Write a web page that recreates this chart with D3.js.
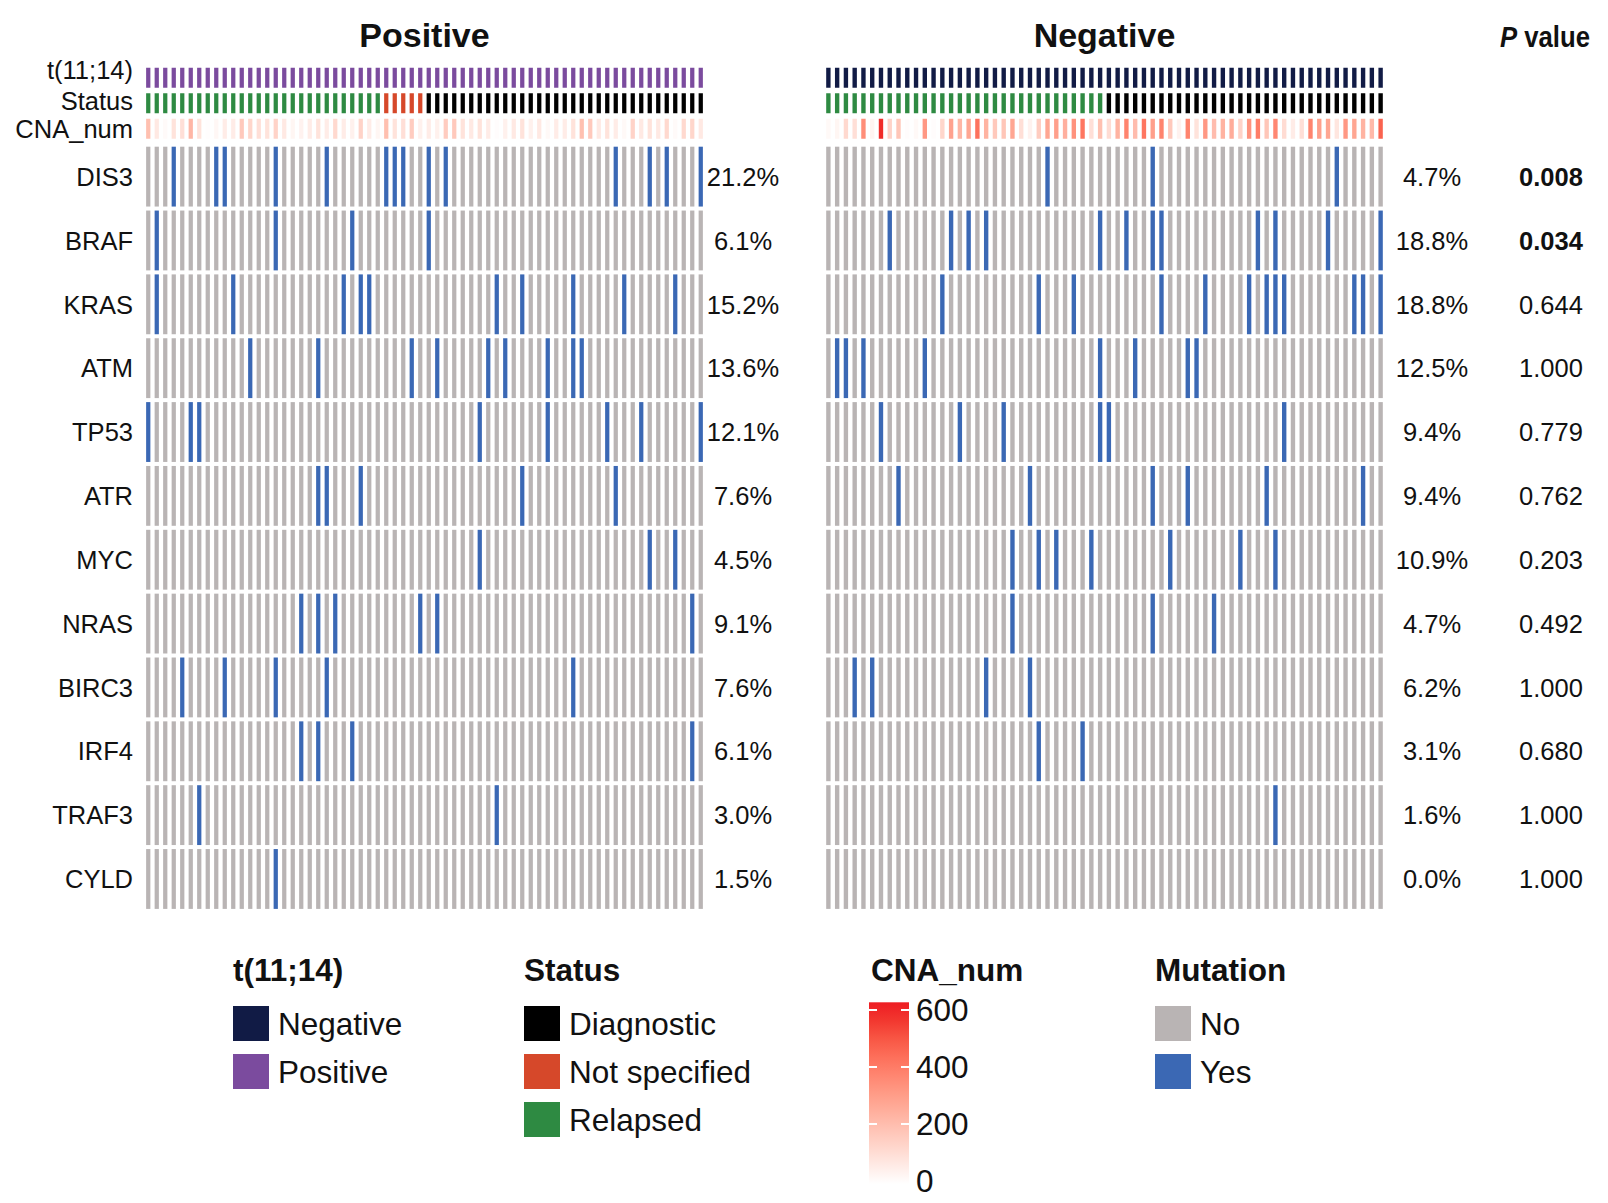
<!DOCTYPE html>
<html>
<head>
<meta charset="utf-8">
<script src="https://cdn.jsdelivr.net/npm/d3@7"></script>
<style>
  body { margin: 0; background: #fff; }
  svg { display: block; }
  text { font-family: "Liberation Sans", Arial, Helvetica, sans-serif; fill: #111; }
</style>
</head>
<body>
<svg id="chart" width="1608" height="1203"></svg>
<script>
// ---- data ----------------------------------------------------------------
const genes = ["DIS3", "BRAF", "KRAS", "ATM", "TP53", "ATR", "MYC", "NRAS", "BIRC3", "IRF4", "TRAF3", "CYLD"];
const annotationRows = ["t(11;14)", "Status", "CNA_num"];

const posSampleCount = 66;
const negSampleCount = 64;

// column indices (sample order) of mutated samples, one list per gene
const posMutated = [
  [3, 8, 9, 15, 21, 28, 29, 30, 33, 35, 55, 59, 61, 65],
  [1, 15, 24, 33],
  [1, 10, 23, 25, 26, 41, 44, 50, 56, 62],
  [12, 20, 31, 34, 40, 42, 47, 50, 51],
  [0, 5, 6, 39, 47, 54, 58, 65],
  [20, 21, 25, 44, 55],
  [39, 59, 62],
  [18, 20, 22, 32, 34, 64],
  [4, 9, 15, 21, 50],
  [18, 20, 24, 64],
  [6, 41],
  [15]
];
const negMutated = [
  [25, 37, 58],
  [7, 14, 16, 18, 31, 34, 37, 38, 49, 51, 57, 63],
  [13, 24, 28, 38, 43, 48, 50, 51, 52, 60, 61, 63],
  [1, 2, 4, 11, 31, 35, 41, 42],
  [6, 15, 20, 31, 32, 52],
  [8, 23, 37, 41, 50, 61],
  [21, 24, 26, 30, 39, 47, 51],
  [21, 37, 44],
  [3, 5, 18, 23],
  [24, 29],
  [51],
  []
];

const posPct = ["21.2%", "6.1%", "15.2%", "13.6%", "12.1%", "7.6%", "4.5%", "9.1%", "7.6%", "6.1%", "3.0%", "1.5%"];
const negPct = ["4.7%", "18.8%", "18.8%", "12.5%", "9.4%", "9.4%", "10.9%", "4.7%", "6.2%", "3.1%", "1.6%", "0.0%"];
const pValues = ["0.008", "0.034", "0.644", "1.000", "0.779", "0.762", "0.203", "0.492", "1.000", "0.680", "1.000", "1.000"];
const pSignificant = [true, true, false, false, false, false, false, false, false, false, false, false];

// sample status, as runs along the sample order
const posStatusRuns = [["Relapsed", 28], ["Not specified", 5], ["Diagnostic", 33]];
const negStatusRuns = [["Relapsed", 32], ["Diagnostic", 32]];

// number of copy-number alterations per sample
const posCNA = [200, 70, 15, 90, 100, 230, 90, 5, 25, 60, 60, 170, 130, 100, 90, 140, 70, 30, 40, 60,
  90, 60, 120, 60, 45, 140, 60, 30, 200, 90, 100, 160, 45, 60, 45, 160, 170, 90, 70, 90,
  60, 8, 45, 70, 90, 45, 70, 20, 60, 60, 90, 200, 170, 70, 90, 60, 20, 140, 70, 90,
  70, 120, 15, 120, 130, 70];
const negCNA = [20, 30, 120, 100, 350, 35, 580, 140, 180, 8, 20, 320, 8, 130, 290, 230, 280, 430, 240, 170,
  180, 280, 100, 40, 160, 280, 300, 250, 340, 420, 100, 200, 110, 240, 380, 210, 420, 300, 380, 170,
  40, 380, 90, 320, 210, 240, 260, 140, 340, 400, 180, 370, 110, 60, 100, 380, 300, 280, 80, 320,
  280, 240, 220, 470];

const statusLevels = ["Diagnostic", "Not specified", "Relapsed"];
const mutationLevels = ["No", "Yes"];
const cnaTicks = [0, 200, 400, 600];

// ---- styles ----------------------------------------------------------------
const groupColor = { "Negative": "#111b45", "Positive": "#7b4b9e" };
const statusColor = { "Diagnostic": "#000000", "Not specified": "#d6482a", "Relapsed": "#2e8a42" };
const mutColor = { "No": "#b9b4b4", "Yes": "#3b68b4" };
const cnaColor = d3.scaleLinear().domain([0, 600]).range(["#ffffff", "#ee1d23"])
  .interpolate(d3.interpolateLab).clamp(true);

const svg = d3.select("#chart");
const FONT = 25.5;

// rows shared by both panels
const annoY = d3.scaleBand().domain(annotationRows).range([65, 141.5])
  .paddingInner(0.216).paddingOuter(0.108);
const geneY = d3.scaleBand().domain(genes).range([144.7, 910.9])
  .paddingInner(0.0627).paddingOuter(0.0313);
// the t(11;14) label sits a little above its strip
const annoLabelShift = { "t(11;14)": -8, "Status": -2, "CNA_num": 0 };

function expandRuns(runs) {
  const out = [];
  runs.forEach(([k, n]) => { for (let i = 0; i < n; i++) out.push(k); });
  return out;
}

function drawPanel(cfg) {
  const ids = d3.range(cfg.n);
  const x = d3.scaleBand().domain(ids).range(cfg.range).paddingInner(0.5).paddingOuter(0.25);
  const g = svg.append("g");

  // title
  g.append("text")
    .attr("x", (cfg.range[0] + cfg.range[1]) / 2).attr("y", 47)
    .attr("text-anchor", "middle").style("font-weight", "bold").style("font-size", "34px")
    .text(cfg.label);

  // annotation: t(11;14)
  g.append("g").selectAll("rect").data(ids).join("rect")
    .attr("x", d => x(d)).attr("width", x.bandwidth())
    .attr("y", annoY("t(11;14)")).attr("height", annoY.bandwidth())
    .attr("fill", groupColor[cfg.label]);

  // annotation: status
  const status = expandRuns(cfg.statusRuns);
  g.append("g").selectAll("rect").data(ids).join("rect")
    .attr("x", d => x(d)).attr("width", x.bandwidth())
    .attr("y", annoY("Status")).attr("height", annoY.bandwidth())
    .attr("fill", d => statusColor[status[d]]);

  // annotation: CNA_num
  g.append("g").selectAll("rect").data(ids).join("rect")
    .attr("x", d => x(d)).attr("width", x.bandwidth())
    .attr("y", annoY("CNA_num")).attr("height", annoY.bandwidth())
    .attr("fill", d => cnaColor(cfg.cna[d]));

  // mutation matrix
  const cells = [];
  genes.forEach((gene, gi) => {
    const hit = new Set(cfg.mutated[gi]);
    ids.forEach(s => cells.push({ gene, s, v: hit.has(s) ? "Yes" : "No" }));
  });
  g.append("g").selectAll("rect").data(cells).join("rect")
    .attr("x", d => x(d.s)).attr("width", x.bandwidth())
    .attr("y", d => geneY(d.gene)).attr("height", geneY.bandwidth())
    .attr("fill", d => mutColor[d.v]);

  // percentage of mutated samples per gene
  g.append("g").selectAll("text").data(genes).join("text")
    .attr("x", cfg.pctX).attr("y", d => geneY(d) + geneY.bandwidth() / 2)
    .attr("dy", "0.36em").attr("text-anchor", "middle").style("font-size", FONT + "px")
    .text((d, i) => cfg.pct[i]);
}

drawPanel({ label: "Positive", n: posSampleCount, range: [144, 705], statusRuns: posStatusRuns,
  cna: posCNA, mutated: posMutated, pct: posPct, pctX: 743 });
drawPanel({ label: "Negative", n: negSampleCount, range: [824, 1385], statusRuns: negStatusRuns,
  cna: negCNA, mutated: negMutated, pct: negPct, pctX: 1432 });

// row labels
svg.append("g").selectAll("text").data(annotationRows).join("text")
  .attr("x", 133).attr("y", d => annoY(d) + annoY.bandwidth() / 2 + annoLabelShift[d])
  .attr("dy", "0.36em").attr("text-anchor", "end").style("font-size", FONT + "px")
  .text(d => d);
svg.append("g").selectAll("text").data(genes).join("text")
  .attr("x", 133).attr("y", d => geneY(d) + geneY.bandwidth() / 2)
  .attr("dy", "0.36em").attr("text-anchor", "end").style("font-size", FONT + "px")
  .text(d => d);

// P value column
const pHead = svg.append("text").attr("x", 1500).attr("y", 47)
  .style("font-weight", "bold").style("font-size", "30px")
  .attr("textLength", 90).attr("lengthAdjust", "spacingAndGlyphs");
pHead.append("tspan").style("font-style", "italic").text("P");
pHead.append("tspan").text(" value");

svg.append("g").selectAll("text").data(genes).join("text")
  .attr("x", 1551).attr("y", d => geneY(d) + geneY.bandwidth() / 2)
  .attr("dy", "0.36em").attr("text-anchor", "middle").style("font-size", FONT + "px")
  .style("font-weight", (d, i) => pSignificant[i] ? "bold" : "normal")
  .text((d, i) => pValues[i]);

// ---- legends -----------------------------------------------------------------
const LEG_FONT = 31.5;
const titleY = 970;
const itemY = [1006, 1054, 1102];
const SQ = 36;

function discreteLegend(x0, title, levels, colors) {
  const g = svg.append("g");
  g.append("text").attr("x", x0).attr("y", titleY).attr("dy", "0.35em")
    .style("font-weight", "bold").style("font-size", LEG_FONT + "px").text(title);
  const it = g.selectAll("g.item").data(levels).join("g").attr("class", "item");
  it.append("rect").attr("x", x0).attr("y", (d, i) => itemY[i])
    .attr("width", SQ).attr("height", SQ - 1).attr("fill", d => colors[d]);
  it.append("text").attr("x", x0 + SQ + 9).attr("y", (d, i) => itemY[i] + SQ / 2)
    .attr("dy", "0.36em").style("font-size", LEG_FONT + "px").text(d => d);
}

discreteLegend(233, "t(11;14)", ["Negative", "Positive"], groupColor);
discreteLegend(524, "Status", statusLevels, statusColor);
discreteLegend(1155, "Mutation", mutationLevels, mutColor);

// CNA_num colour bar
{
  const x0 = 869, w = 40;
  const yScale = d3.scaleLinear().domain([0, 600]).range([1181, 1010]);
  const top = yScale(627), bottom = yScale(0) + 3;
  const defs = svg.append("defs");
  const grad = defs.append("linearGradient").attr("id", "cnaGrad")
    .attr("x1", 0).attr("x2", 0).attr("y1", 1).attr("y2", 0);
  d3.range(0, 11).forEach(i => {
    const v = i / 10 * 627;
    grad.append("stop").attr("offset", (i * 10) + "%").attr("stop-color", cnaColor(v));
  });
  const g = svg.append("g");
  g.append("text").attr("x", 871).attr("y", titleY).attr("dy", "0.35em")
    .style("font-weight", "bold").style("font-size", LEG_FONT + "px").text("CNA_num");
  g.append("rect").attr("x", x0).attr("y", top).attr("width", w).attr("height", bottom - top)
    .attr("fill", "url(#cnaGrad)");
  const tk = g.selectAll("g.tick").data(cnaTicks).join("g").attr("class", "tick");
  tk.filter(d => d > 0).append("line").attr("x1", x0).attr("x2", x0 + 8)
    .attr("y1", d => yScale(d)).attr("y2", d => yScale(d)).attr("stroke", "#fff").attr("stroke-width", 2);
  tk.filter(d => d > 0).append("line").attr("x1", x0 + w - 8).attr("x2", x0 + w)
    .attr("y1", d => yScale(d)).attr("y2", d => yScale(d)).attr("stroke", "#fff").attr("stroke-width", 2);
  tk.append("text").attr("x", x0 + w + 7).attr("y", d => yScale(d)).attr("dy", "0.36em")
    .style("font-size", LEG_FONT + "px").text(d => d);
}
</script>
</body>
</html>
